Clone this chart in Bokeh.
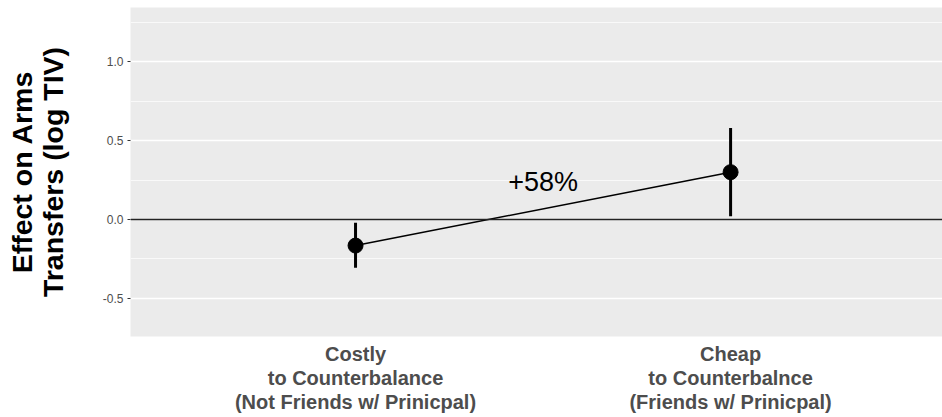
from bokeh.plotting import figure
from bokeh.models import FixedTicker, Span, ColumnDataSource
from bokeh.core.properties import value
from bokeh.embed import file_html
from bokeh.resources import INLINE

# ---- data ----
categories = [
    "Costly\nto Counterbalance\n(Not Friends w/ Prinicpal)",
    "Cheap\nto Counterbalnce\n(Friends w/ Prinicpal)",
]
positions = [1, 2]
estimates = [-0.165, 0.30]
lower = [-0.305, 0.02]
upper = [-0.02, 0.58]
annotation_text = ["+58%"]
annotation_x = [1.5]
annotation_y = [0.24]
y_ticks = [-0.5, 0.0, 0.5, 1.0]
y_tick_labels = ["-0.5", "0.0", "0.5", "1.0"]
y_minor_ticks = [-0.75, -0.25, 0.25, 0.75, 1.25]
y_title = "Effect on Arms\nTransfers (log TIV)"

FONT = "Liberation Sans"

p = figure(width=942, height=417, output_backend="svg", toolbar_location=None,
           x_range=(0.4, 2.565), y_range=(-0.741, 1.343),
           min_border_left=130, min_border_right=0, min_border_top=7, min_border_bottom=81)

p.background_fill_color = "#EBEBEB"
p.border_fill_color = "white"
p.outline_line_color = None

# grid
p.xgrid.grid_line_color = None
p.ygrid.ticker = FixedTicker(ticks=y_ticks, minor_ticks=y_minor_ticks)
p.ygrid.grid_line_color = "white"
p.ygrid.grid_line_width = 1.4
p.ygrid.minor_grid_line_color = "white"
p.ygrid.minor_grid_line_width = 0.7

# y axis
p.yaxis.ticker = FixedTicker(ticks=y_ticks, minor_ticks=y_minor_ticks)
p.yaxis.major_label_overrides = {t: s for t, s in zip(y_ticks, y_tick_labels)}
p.yaxis.axis_line_color = None
p.yaxis.major_tick_line_color = "#333333"
p.yaxis.major_tick_out = 3
p.yaxis.major_tick_in = 0
p.yaxis.minor_tick_line_color = None
p.yaxis.major_label_text_font = FONT
p.yaxis.major_label_text_font_size = "12px"
p.yaxis.major_label_text_color = "#4D4D4D"
p.yaxis.major_label_standoff = 3
p.yaxis.axis_label = y_title
p.yaxis.axis_label_text_font = FONT
p.yaxis.axis_label_text_font_size = "28.5px"
p.yaxis.axis_label_text_font_style = "bold"
p.yaxis.axis_label_text_color = "black"
p.yaxis.axis_label_text_line_height = 0.95
p.yaxis.axis_label_standoff = 31

# x axis
p.xaxis.ticker = FixedTicker(ticks=positions)
p.xaxis.major_label_overrides = {pos: lab for pos, lab in zip(positions, categories)}
p.xaxis.axis_line_color = None
p.xaxis.major_tick_line_color = None
p.xaxis.minor_tick_line_color = None
p.xaxis.major_tick_out = 0
p.xaxis.major_tick_in = 0
p.xaxis.major_label_text_font = FONT
p.xaxis.major_label_text_font_size = "20px"
p.xaxis.major_label_text_font_style = "bold"
p.xaxis.major_label_text_color = "#4D4D4D"
p.xaxis.major_label_text_line_height = 1.1
p.xaxis.major_label_standoff = 6

# zero line
p.add_layout(Span(location=0, dimension="width", line_color="#222222", line_width=1.6))

src = ColumnDataSource(dict(x=positions, est=estimates, lo=lower, hi=upper))

p.segment(x0="x", y0="lo", x1="x", y1="hi", source=src, line_color="black", line_width=3)
p.line(x="x", y="est", source=src, line_color="black", line_width=1.5)
p.scatter(x="x", y="est", source=src, size=15, fill_color="black", line_color="black")

p.text(x=annotation_x, y=annotation_y, text=annotation_text, text_font=value(FONT),
       text_font_size="27px", text_align="center", text_baseline="middle", text_color="black")

open("out.html", "w").write(file_html(p, INLINE))
